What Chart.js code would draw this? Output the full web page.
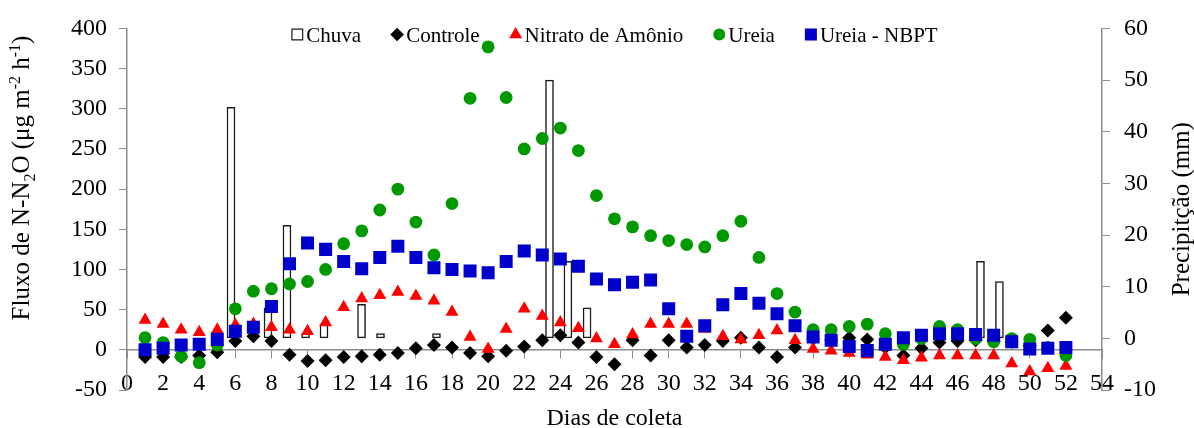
<!DOCTYPE html>
<html lang="pt-BR">
<head>
<meta charset="utf-8">
<title>Fluxo de N-N2O</title>
<script src="https://cdn.jsdelivr.net/npm/chart.js@4/dist/chart.umd.min.js"></script>
<style>
  html, body { margin: 0; padding: 0; background: #fff; }
  #wrap { width: 1194px; height: 428px; }
</style>
</head>
<body>
<div id="wrap"><canvas id="fluxo-chart"></canvas></div>
<script>
// dias de coleta e fluxos (µg m-2 h-1)
const dias = [1, 2, 3, 4, 5, 6, 7, 8, 9, 10, 11, 12, 13, 14, 15, 16, 17, 18, 19, 20, 21, 22, 23, 24, 25, 26,
  27, 28, 29, 30, 31, 32, 33, 34, 35, 36, 37, 38, 39, 40, 41, 42, 43, 44, 45, 46, 47, 48, 49, 50, 51, 52];
const controle = [-9, -9, -9, -7, -3, 11, 17, 11, -6, -14, -13, -9, -8, -6, -4, 2, 6, 3, -4, -8, -1, 4, 12, 18, 9, -9,
  -18, 12, -7, 12, 3, 6, 11, 15, 3, -9, 3, 14, 12, 15, 13, 3, -7, 2, 9, 11, 12, 10, 10, 5, 24, 40];
const nitrato = [37, 32, 25, 22, 25, 31, 32, 28, 25, 23, 34, 53, 64, 68, 72, 67, 61, 47, 16, 1, 26, 51, 42, 34, 27, 14,
  7, 19, 32, 32, 32, 26, 17, 13, 18, 24, 12, 1, -1, -4, -6, -9, -13, -10, -7, -7, -7, -7, -17, -27, -23, -20];
const ureia = [15, 9, -8, -16, 6, 51, 73, 76, 82, 85, 100, 132, 148, 174, 200, 159, 118, 182, 313, 377, 314, 250, 263, 276, 248, 192,
  163, 153, 142, 136, 131, 128, 142, 160, 115, 70, 47, 25, 25, 29, 32, 20, 7, 14, 29, 25, 14, 10, 14, 13, 3, -7];
const ureiaNbpt = [0, 2, 6, 7, 13, 23, 28, 54, 107, 133, 125, 110, 101, 115, 129, 115, 102, 100, 98, 96, 110, 123, 118, 113, 104, 88,
  81, 84, 87, 51, 17, 30, 56, 70, 58, 45, 30, 16, 12, 4, -1, 7, 15, 18, 20, 20, 19, 18, 10, 1, 2, 3];

// chuva (mm), eixo secundario
const chuvaDias = [5.76, 7.81, 8.86, 9.89, 10.91, 12.99, 14.04, 17.14, 23.4, 24.42, 25.48, 47.27, 48.32];
const chuvaMm = [44.7, 5.9, 21.9, 0.9, 2.8, 6.6, 0.9, 0.9, 50, 14.9, 5.9, 14.9, 11];

const fonte = '"Liberation Serif", "Times New Roman", serif';
const cinza = '#8c8c8c';

function pontos(valores) {
  return dias.map((d, i) => ({ x: d, y: valores[i] }));
}

// titulos verticais (com sub/sobrescrito) desenhados no canvas
const titulosVerticais = {
  id: 'titulosVerticais',
  afterDraw(chart) {
    const ctx = chart.ctx;
    const size = 25;
    const small = Math.round(size * 0.65);
    const partes = [
      ['Fluxo de N-N', 0], ['2', 0.22], ['O (μg m', 0], ['-2', -0.38], [' h', 0], ['-1', -0.38], [')', 0]
    ];
    ctx.save();
    ctx.fillStyle = '#000';
    ctx.textBaseline = 'alphabetic';
    let total = 0;
    partes.forEach(p => {
      ctx.font = (p[1] ? small : size) + 'px ' + fonte;
      total += ctx.measureText(p[0]).width;
    });
    ctx.translate(29, 178);
    ctx.rotate(-Math.PI / 2);
    let x = -total / 2;
    partes.forEach(p => {
      ctx.font = (p[1] ? small : size) + 'px ' + fonte;
      ctx.fillText(p[0], x, p[1] * size);
      x += ctx.measureText(p[0]).width;
    });
    ctx.restore();

    ctx.save();
    ctx.fillStyle = '#000';
    ctx.font = size + 'px ' + fonte;
    ctx.textAlign = 'center';
    ctx.textBaseline = 'alphabetic';
    const area = chart.chartArea;
    ctx.translate(1189, (area.top + area.bottom) / 2);
    ctx.rotate(-Math.PI / 2);
    ctx.fillText('Precipitção (mm)', 0, 0);
    ctx.restore();
  }
};

// legenda em uma linha, dentro da area do grafico
const raioLegenda = { circle: 6, rect: 8.5, rectRot: 6.8, triangle: 7.5 };
const legendaHorizontal = {
  id: 'legendaHorizontal',
  beforeDatasetsDraw(chart) {
    const ctx = chart.ctx;
    const area = chart.chartArea;
    const yMarca = 34.5, yTexto = 42;
    const marca = 12, folga = 3, espaco = 30;
    ctx.save();
    ctx.font = '21px ' + fonte;
    const itens = chart.data.datasets.map(ds => ({ ds, w: ctx.measureText(ds.label).width }));
    const total = itens.reduce((s, it) => s + marca + folga + it.w, 0) + espaco * (itens.length - 1);
    let x = (area.left + area.right) / 2 - total / 2;
    itens.forEach(({ ds, w }) => {
      const barra = ds.type === 'bar';
      ctx.fillStyle = ds.backgroundColor;
      ctx.strokeStyle = barra ? ds.borderColor : ds.backgroundColor;
      ctx.lineWidth = 1.2;
      Chart.helpers.drawPoint(ctx, {
        pointStyle: ds.pointStyle,
        radius: barra ? 7.6 : raioLegenda[ds.pointStyle],
        rotation: 0,
        borderWidth: barra ? 1.2 : 0
      }, x + marca / 2, yMarca);
      ctx.fillStyle = '#000';
      ctx.textBaseline = 'alphabetic';
      ctx.fillText(ds.label, x + marca + folga, yTexto);
      x += marca + folga + w + espaco;
    });
    ctx.restore();
  }
};

const ctx = document.getElementById('fluxo-chart');
new Chart(ctx, {
  type: 'scatter',
  data: {
    datasets: [
      {
        type: 'bar',
        label: 'Chuva',
        data: chuvaDias.map((d, i) => ({ x: d, y: chuvaMm[i] })),
        yAxisID: 'y2',
        barThickness: 8,
        backgroundColor: '#fff',
        borderColor: '#1a1a1a',
        borderWidth: 1.5,
        borderSkipped: false,
        pointStyle: 'rect',
        order: 5
      },
      {
        type: 'scatter',
        label: 'Controle',
        data: pontos(controle),
        pointStyle: 'rectRot',
        pointRadius: 7,
        pointBorderWidth: 0,
        backgroundColor: '#000',
        order: 4
      },
      {
        type: 'scatter',
        label: 'Nitrato de Amônio',
        data: pontos(nitrato),
        pointStyle: 'triangle',
        pointRadius: 7.5,
        pointBorderWidth: 0,
        backgroundColor: '#ff0000',
        order: 3
      },
      {
        type: 'scatter',
        label: 'Ureia',
        data: pontos(ureia),
        pointStyle: 'circle',
        pointRadius: 6.4,
        pointBorderWidth: 0,
        backgroundColor: '#009900',
        order: 2
      },
      {
        type: 'scatter',
        label: 'Ureia - NBPT',
        data: pontos(ureiaNbpt),
        pointStyle: 'rect',
        pointRadius: 9.2,
        pointBorderWidth: 0,
        backgroundColor: '#0000cc',
        order: 1
      }
    ]
  },
  options: {
    responsive: true,
    maintainAspectRatio: false,
    animation: false,
    layout: { padding: { left: 0, right: 0, top: 24, bottom: 38 } },
    scales: {
      x: {
        type: 'linear',
        min: 0,
        max: 54,
        offset: false,
        position: { y: 0 },
        ticks: { stepSize: 2, autoSkip: false, maxRotation: 0, padding: 11, color: '#000', font: { family: fonte, size: 24 } },
        grid: { drawOnChartArea: false, drawTicks: true, tickLength: 8, color: cinza, offset: false },
        border: { color: cinza, width: 1.5 },
        title: { display: true, text: 'Dias de coleta', color: '#000', font: { family: fonte, size: 24 }, padding: { top: -4, bottom: 0 } }
      },
      y: {
        position: 'left',
        min: -50,
        max: 400,
        ticks: { stepSize: 50, padding: 12, color: '#000', font: { family: fonte, size: 24 } },
        grid: { drawOnChartArea: false, drawTicks: true, tickLength: 8, color: cinza },
        border: { color: cinza, width: 1.5 },
        afterFit(scale) { scale.width = 127; }
      },
      y2: {
        position: 'right',
        min: -10,
        max: 60,
        ticks: { stepSize: 10, padding: 14, color: '#000', font: { family: fonte, size: 24 } },
        grid: { drawOnChartArea: false, drawTicks: true, tickLength: 8, color: cinza },
        border: { color: cinza, width: 1.5 },
        afterFit(scale) { scale.width = 92; }
      }
    },
    plugins: {
      legend: { display: false },
      tooltip: { enabled: false }
    }
  },
  plugins: [titulosVerticais, legendaHorizontal]
});
</script>
</body>
</html>
